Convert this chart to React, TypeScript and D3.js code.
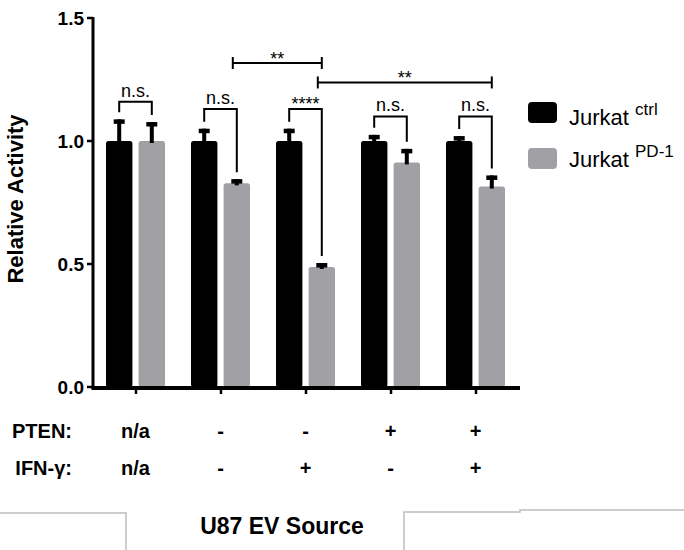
import * as d3 from "d3";

// conditions per group
const groups = ["g1", "g2", "g3", "g4", "g5"];
const ptenLabels = ["n/a", "-", "-", "+", "+"];
const ifngLabels = ["n/a", "-", "+", "-", "+"];

const series = ["ctrl", "PD-1"];
const ctrlMean = [1.0, 1.0, 1.0, 1.0, 1.0];
const ctrlErr = [0.088, 0.05, 0.05, 0.025, 0.02];
const pd1Mean = [1.0, 0.828, 0.488, 0.913, 0.815];
const pd1Err = [0.077, 0.017, 0.016, 0.055, 0.045];

// significance within each group (ctrl vs PD-1)
const withinLabels = ["n.s.", "n.s.", "****", "n.s.", "n.s."];
const withinLevel = [1.16, 1.13, 1.13, 1.1, 1.1];

// significance between PD-1 bars of two groups
const betweenFrom = [1, 2];
const betweenTo = [2, 4];
const betweenLabels = ["**", "**"];
const betweenLevel = [1.317, 1.238];

const yTicks = [0, 0.5, 1.0, 1.5];

const FONT = "Liberation Sans, Arial, Helvetica, sans-serif";
const colors = { ctrl: "#000000", "PD-1": "#a1a1a5" };

export default function App() {
  const y = d3.scaleLinear().domain([0, 1.5]).range([387, 18]);
  const x0 = d3.scaleBand().domain(groups).range([93, 518]);
  const x1 = d3.scaleBand().domain(series).range([13, 72]).paddingInner(0.19);
  const bw = x1.bandwidth();
  const fmt = d3.format(".1f");

  const means = { ctrl: ctrlMean, "PD-1": pd1Mean };
  const errs = { ctrl: ctrlErr, "PD-1": pd1Err };

  const barCenter = (gi: number, s: string) =>
    (x0(groups[gi]) as number) + (x1(s) as number) + bw / 2;

  const axisY = 93;
  const zeroY = y(0);

  return (
    <svg
      width={684}
      height={550}
      style={{ position: "absolute", left: 0, top: 0, background: "#fff" }}
      fontFamily={FONT}
    >
      {/* bars + error bars */}
      {groups.map((g, gi) =>
        series.map((s) => {
          const v = means[s][gi];
          const e = errs[s][gi];
          const cx = barCenter(gi, s);
          return (
            <g key={g + s}>
              <rect
                x={cx - bw / 2}
                y={y(v)}
                width={bw}
                height={zeroY - y(v)}
                rx={2.5}
                fill={colors[s]}
              />
              <rect x={cx - 2} y={y(v + e)} width={4} height={y(v) - y(v + e) + 2} fill="#000" />
              <rect x={cx - 5.5} y={y(v + e)} width={11} height={4.5} fill="#000" />
            </g>
          );
        })
      )}

      {/* y axis */}
      <line x1={axisY} x2={axisY} y1={y(1.5) - 1} y2={zeroY + 2} stroke="#000" strokeWidth={3} />
      {yTicks.map((t) => (
        <g key={t}>
          <line x1={axisY - 6} x2={axisY} y1={y(t)} y2={y(t)} stroke="#000" strokeWidth={2.5} />
          <text
            x={84}
            y={y(t)}
            textAnchor="end"
            dominantBaseline="central"
            fontSize={19}
            fontWeight="bold"
          >
            {fmt(t)}
          </text>
        </g>
      ))}
      <text
        transform={`translate(23,${199}) rotate(-90)`}
        textAnchor="middle"
        fontSize={22}
        fontWeight="bold"
      >
        Relative Activity
      </text>

      {/* x axis */}
      <line x1={axisY - 1.5} x2={520} y1={zeroY + 1} y2={zeroY + 1} stroke="#000" strokeWidth={4} />
      {groups.map((g) => {
        const cx = (x0(g) as number) + x0.bandwidth() / 2 + 0.5;
        return <line key={g} x1={cx} x2={cx} y1={zeroY} y2={zeroY + 7} stroke="#000" strokeWidth={2.5} />;
      })}

      {/* within-group brackets */}
      {groups.map((g, gi) => {
        const xl = barCenter(gi, "ctrl");
        const xr = barCenter(gi, "PD-1");
        const by = y(withinLevel[gi]);
        const yl = y(ctrlMean[gi] + ctrlErr[gi]) - 7;
        const yr = y(pd1Mean[gi] + pd1Err[gi]) - 7;
        const stars = withinLabels[gi].startsWith("*");
        return (
          <g key={"w" + g}>
            <path
              d={`M${xl},${yl}V${by}H${xr}V${yr}`}
              fill="none"
              stroke="#000"
              strokeWidth={2}
            />
            <text
              x={(xl + xr) / 2}
              y={stars ? by + 1 : by - 5}
              textAnchor="middle"
              fontSize={18}
            >
              {withinLabels[gi]}
            </text>
          </g>
        );
      })}

      {/* between-group brackets */}
      {betweenLabels.map((lab, i) => {
        const xl = barCenter(betweenFrom[i], "PD-1") - 4;
        const xr = barCenter(betweenTo[i], "PD-1");
        const by = y(betweenLevel[i]);
        return (
          <g key={"b" + i}>
            <line x1={xl} x2={xr} y1={by} y2={by} stroke="#000" strokeWidth={2} />
            <line x1={xl} x2={xl} y1={by - 6} y2={by + 6} stroke="#000" strokeWidth={2} />
            <line x1={xr} x2={xr} y1={by - 6} y2={by + 6} stroke="#000" strokeWidth={2} />
            <text x={(xl + xr) / 2} y={by + 2} textAnchor="middle" fontSize={18}>
              {lab}
            </text>
          </g>
        );
      })}

      {/* legend */}
      {series.map((s, i) => (
        <g key={"l" + s}>
          <rect x={528} y={102 + i * 46} width={29} height={21} rx={4} fill={colors[s]} />
          <text x={569} y={125 + i * 42} fontSize={22}>
            {"Jurkat "}
            <tspan fontSize={17} dy={-10}>
              {s}
            </tspan>
          </text>
        </g>
      ))}

      {/* condition table */}
      <text x={72} y={438} textAnchor="end" fontSize={20} fontWeight="bold">
        PTEN:
      </text>
      <text x={72} y={475} textAnchor="end" fontSize={20} fontWeight="bold">
        IFN-γ:
      </text>
      {groups.map((g, gi) => {
        const cx = (x0(g) as number) + x0.bandwidth() / 2;
        return (
          <g key={"t" + g}>
            <text x={cx} y={438} textAnchor="middle" fontSize={20} fontWeight="bold">
              {ptenLabels[gi]}
            </text>
            <text x={cx} y={475} textAnchor="middle" fontSize={20} fontWeight="bold">
              {ifngLabels[gi]}
            </text>
          </g>
        );
      })}

      {/* bottom frame lines */}
      <polyline points="0,513 126,513 126,550" fill="none" stroke="#bdbdbd" strokeWidth={1.5} />
      <polyline
        points="404,550 404,512 520,512 520,510 684,510"
        fill="none"
        stroke="#bdbdbd"
        strokeWidth={1.5}
      />
      <text x={282} y={534} textAnchor="middle" fontSize={23} fontWeight="bold">
        U87 EV Source
      </text>
    </svg>
  );
}
